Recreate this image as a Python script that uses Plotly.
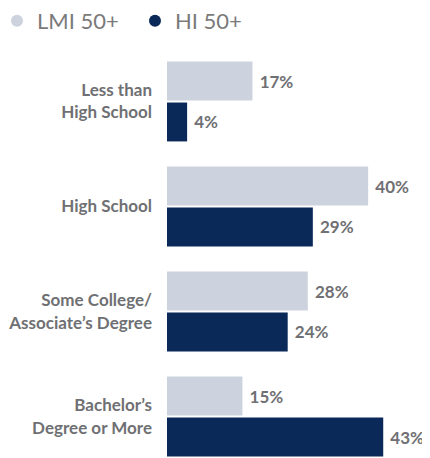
import plotly.graph_objects as go

categories = ["Less than<br>High School", "High School", "Some College/<br>Associate’s Degree", "Bachelor’s<br>Degree or More"]
lmi_values = [17, 40, 28, 15]
hi_values = [4, 29, 24, 43]
series_names = ["LMI 50+", "HI 50+"]

LIGHT = "#cdd3de"
DARK = "#0a2858"
TEXT = "#6f7073"
FONT = "Lato"

# the page body has an 8px default margin, so the figure is 8px smaller
W, H = 422, 450
ML, MT = 159, 41
PW, PH = W - ML, H - MT

fig = go.Figure()
for i, (name, vals, col) in enumerate([(series_names[0], lmi_values, LIGHT), (series_names[1], hi_values, DARK)]):
    fig.add_trace(go.Bar(
        y=categories, x=vals, orientation="h", name=name,
        marker=dict(color=col, line=dict(width=0)),
        text=[f" {v}%" for v in vals], textposition="outside",
        textfont=dict(family=FONT, size=17, color=TEXT, weight="bold"),
        cliponaxis=False, showlegend=False,
    ))
    fig.add_trace(go.Scatter(
        x=[None], y=[None], mode="markers", name=name,
        marker=dict(symbol="circle", size=14, color=col),
        showlegend=True, legend="legend" if i == 0 else "legend2",
    ))

leg_common = dict(
    orientation="h", xref="paper", yref="paper",
    xanchor="left", yanchor="top", y=1 + (MT + 8) / PH,
    font=dict(family=FONT, size=22, color="#7a7a7a"),
    itemsizing="constant", bgcolor="rgba(0,0,0,0)",
)

fig.update_layout(
    width=W, height=H,
    margin=dict(l=ML, r=0, t=MT, b=0, autoexpand=False),
    paper_bgcolor="white", plot_bgcolor="white",
    barmode="group", bargap=0.22, bargroupgap=0.05,
    font=dict(family=FONT, color=TEXT),
    legend=dict(x=(-11 - ML) / PW, **leg_common),
    legend2=dict(x=(127 - ML) / PW, **leg_common),
    xaxis=dict(range=[0, 52.3], visible=False, fixedrange=True),
    yaxis=dict(
        range=[3.395, -0.5], showgrid=False, zeroline=False, showline=False,
        ticks="", ticklabelstandoff=14,
        tickfont=dict(family=FONT, size=17, color=TEXT, weight="bold"),
        categoryorder="array", categoryarray=categories,
    ),
)

fig.write_html("out.html")
